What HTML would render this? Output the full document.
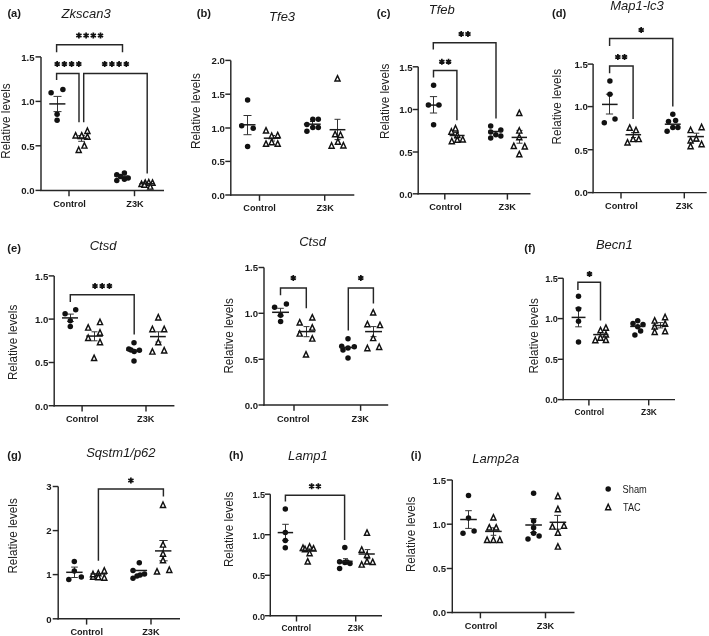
<!DOCTYPE html>
<html><head><meta charset="utf-8"><style>
html,body{margin:0;padding:0;background:#fff;}
svg{display:block;font-family:"Liberation Sans", sans-serif;filter:blur(0.35px);}
</style></head><body>
<svg width="709" height="636" viewBox="0 0 709 636">
<rect width="709" height="636" fill="#fff"/>
<line x1="41.0" y1="56.9" x2="41.0" y2="191.1" stroke="#262626" stroke-width="1.45"/>
<line x1="40.3" y1="190.4" x2="164.0" y2="190.4" stroke="#262626" stroke-width="1.45"/>
<line x1="35.5" y1="56.9" x2="41.0" y2="56.9" stroke="#262626" stroke-width="1.45"/>
<text x="34.6" y="60.7" font-size="9.6" font-weight="bold" font-style="normal" text-anchor="end" fill="#1a1a1a" >1.5</text>
<line x1="35.5" y1="101.4" x2="41.0" y2="101.4" stroke="#262626" stroke-width="1.45"/>
<text x="34.6" y="105.2" font-size="9.6" font-weight="bold" font-style="normal" text-anchor="end" fill="#1a1a1a" >1.0</text>
<line x1="35.5" y1="145.8" x2="41.0" y2="145.8" stroke="#262626" stroke-width="1.45"/>
<text x="34.6" y="149.6" font-size="9.6" font-weight="bold" font-style="normal" text-anchor="end" fill="#1a1a1a" >0.5</text>
<line x1="35.5" y1="190.4" x2="41.0" y2="190.4" stroke="#262626" stroke-width="1.45"/>
<text x="34.6" y="194.2" font-size="9.6" font-weight="bold" font-style="normal" text-anchor="end" fill="#1a1a1a" >0.0</text>
<line x1="69.0" y1="190.4" x2="69.0" y2="196.2" stroke="#262626" stroke-width="1.45"/>
<line x1="134.5" y1="190.4" x2="134.5" y2="196.2" stroke="#262626" stroke-width="1.45"/>
<text x="69.5" y="206.9" font-size="9.9" font-weight="bold" font-style="normal" text-anchor="middle" fill="#1a1a1a" textLength="32.6" lengthAdjust="spacingAndGlyphs">Control</text>
<text x="135.0" y="206.9" font-size="9.9" font-weight="bold" font-style="normal" text-anchor="middle" fill="#1a1a1a" textLength="17.4" lengthAdjust="spacingAndGlyphs">Z3K</text>
<text x="86.1" y="17.8" font-size="13.0" font-weight="normal" font-style="italic" text-anchor="middle" fill="#1a1a1a" >Zkscan3</text>
<text x="7.4" y="16.9" font-size="11.2" font-weight="bold" font-style="normal" text-anchor="start" fill="#1a1a1a" >(a)</text>
<text x="9.9" y="121.0" font-size="12.3" font-weight="normal" font-style="normal" text-anchor="middle" fill="#222" textLength="75.4" lengthAdjust="spacingAndGlyphs" transform="rotate(-90 9.9 121.0)">Relative levels</text>
<line x1="57.5" y1="96.4" x2="57.5" y2="111.6" stroke="#333" stroke-width="1.0"/>
<line x1="53.5" y1="96.4" x2="61.5" y2="96.4" stroke="#333" stroke-width="1.0"/>
<line x1="53.5" y1="111.6" x2="61.5" y2="111.6" stroke="#333" stroke-width="1.0"/>
<circle cx="51.1" cy="92.8" r="2.75" fill="#111"/>
<circle cx="62.9" cy="89.4" r="2.75" fill="#111"/>
<circle cx="57.1" cy="114.2" r="2.75" fill="#111"/>
<circle cx="57.1" cy="120.3" r="2.75" fill="#111"/>
<line x1="49.3" y1="103.9" x2="65.4" y2="103.9" stroke="#1a1a1a" stroke-width="1.5"/>
<line x1="81.5" y1="135.5" x2="81.5" y2="141.3" stroke="#333" stroke-width="1.0"/>
<line x1="78.2" y1="135.5" x2="84.8" y2="135.5" stroke="#333" stroke-width="1.0"/>
<line x1="78.2" y1="141.3" x2="84.8" y2="141.3" stroke="#333" stroke-width="1.0"/>
<path d="M75.60 132.60 L78.15 138.00 L73.05 138.00 Z" fill="#fff" stroke="#111" stroke-width="1.45" stroke-linejoin="miter"/>
<path d="M81.70 132.60 L84.25 138.00 L79.15 138.00 Z" fill="#fff" stroke="#111" stroke-width="1.45" stroke-linejoin="miter"/>
<path d="M87.40 128.00 L89.95 133.40 L84.85 133.40 Z" fill="#fff" stroke="#111" stroke-width="1.45" stroke-linejoin="miter"/>
<path d="M87.40 133.90 L89.95 139.30 L84.85 139.30 Z" fill="#fff" stroke="#111" stroke-width="1.45" stroke-linejoin="miter"/>
<path d="M84.40 142.70 L86.95 148.10 L81.85 148.10 Z" fill="#fff" stroke="#111" stroke-width="1.45" stroke-linejoin="miter"/>
<path d="M78.70 147.00 L81.25 152.40 L76.15 152.40 Z" fill="#fff" stroke="#111" stroke-width="1.45" stroke-linejoin="miter"/>
<line x1="77.2" y1="138.6" x2="87.8" y2="138.6" stroke="#1a1a1a" stroke-width="1.5"/>
<circle cx="116.8" cy="174.8" r="2.75" fill="#111"/>
<circle cx="124.4" cy="173.0" r="2.75" fill="#111"/>
<circle cx="116.8" cy="180.6" r="2.75" fill="#111"/>
<circle cx="124.4" cy="179.3" r="2.75" fill="#111"/>
<circle cx="128.2" cy="177.9" r="2.75" fill="#111"/>
<circle cx="120.5" cy="176.5" r="2.75" fill="#111"/>
<line x1="114.5" y1="176.2" x2="128.0" y2="176.2" stroke="#1a1a1a" stroke-width="1.5"/>
<path d="M141.50 181.10 L144.05 186.50 L138.95 186.50 Z" fill="#fff" stroke="#111" stroke-width="1.45" stroke-linejoin="miter"/>
<path d="M145.20 179.90 L147.75 185.30 L142.65 185.30 Z" fill="#fff" stroke="#111" stroke-width="1.45" stroke-linejoin="miter"/>
<path d="M148.80 179.50 L151.35 184.90 L146.25 184.90 Z" fill="#fff" stroke="#111" stroke-width="1.45" stroke-linejoin="miter"/>
<path d="M152.50 179.90 L155.05 185.30 L149.95 185.30 Z" fill="#fff" stroke="#111" stroke-width="1.45" stroke-linejoin="miter"/>
<path d="M150.30 183.70 L152.85 189.10 L147.75 189.10 Z" fill="#fff" stroke="#111" stroke-width="1.45" stroke-linejoin="miter"/>
<path d="M144.50 181.90 L147.05 187.30 L141.95 187.30 Z" fill="#fff" stroke="#111" stroke-width="1.45" stroke-linejoin="miter"/>
<line x1="139.5" y1="183.7" x2="155.0" y2="183.7" stroke="#1a1a1a" stroke-width="1.5"/>
<polyline points="56.6,52.3 56.6,44.8 122.5,44.8 122.5,52.3" fill="none" stroke="#262626" stroke-width="1.45" stroke-linejoin="miter"/>
<path d="M78.90 38.40L78.90 32.40M76.30 36.90L81.50 33.90M76.30 33.90L81.50 36.90" stroke="#111" stroke-width="1.7" stroke-linecap="butt"/>
<path d="M86.10 38.40L86.10 32.40M83.50 36.90L88.70 33.90M83.50 33.90L88.70 36.90" stroke="#111" stroke-width="1.7" stroke-linecap="butt"/>
<path d="M93.30 38.40L93.30 32.40M90.70 36.90L95.90 33.90M90.70 33.90L95.90 36.90" stroke="#111" stroke-width="1.7" stroke-linecap="butt"/>
<path d="M100.50 38.40L100.50 32.40M97.90 36.90L103.10 33.90M97.90 33.90L103.10 36.90" stroke="#111" stroke-width="1.7" stroke-linecap="butt"/>
<polyline points="56.6,80.0 56.6,73.5 79.0,73.5 79.0,122.2" fill="none" stroke="#262626" stroke-width="1.45" stroke-linejoin="miter"/>
<path d="M57.20 67.00L57.20 61.00M54.60 65.50L59.80 62.50M54.60 62.50L59.80 65.50" stroke="#111" stroke-width="1.7" stroke-linecap="butt"/>
<path d="M64.40 67.00L64.40 61.00M61.80 65.50L67.00 62.50M61.80 62.50L67.00 65.50" stroke="#111" stroke-width="1.7" stroke-linecap="butt"/>
<path d="M71.60 67.00L71.60 61.00M69.00 65.50L74.20 62.50M69.00 62.50L74.20 65.50" stroke="#111" stroke-width="1.7" stroke-linecap="butt"/>
<path d="M78.80 67.00L78.80 61.00M76.20 65.50L81.40 62.50M76.20 62.50L81.40 65.50" stroke="#111" stroke-width="1.7" stroke-linecap="butt"/>
<polyline points="83.7,122.2 83.7,73.5 147.2,73.5 147.2,173.5" fill="none" stroke="#262626" stroke-width="1.45" stroke-linejoin="miter"/>
<path d="M104.70 67.00L104.70 61.00M102.10 65.50L107.30 62.50M102.10 62.50L107.30 65.50" stroke="#111" stroke-width="1.7" stroke-linecap="butt"/>
<path d="M111.90 67.00L111.90 61.00M109.30 65.50L114.50 62.50M109.30 62.50L114.50 65.50" stroke="#111" stroke-width="1.7" stroke-linecap="butt"/>
<path d="M119.10 67.00L119.10 61.00M116.50 65.50L121.70 62.50M116.50 62.50L121.70 65.50" stroke="#111" stroke-width="1.7" stroke-linecap="butt"/>
<path d="M126.30 67.00L126.30 61.00M123.70 65.50L128.90 62.50M123.70 62.50L128.90 65.50" stroke="#111" stroke-width="1.7" stroke-linecap="butt"/>
<line x1="230.8" y1="60.4" x2="230.8" y2="195.7" stroke="#262626" stroke-width="1.45"/>
<line x1="230.1" y1="195.0" x2="354.3" y2="195.0" stroke="#262626" stroke-width="1.45"/>
<line x1="225.3" y1="60.4" x2="230.8" y2="60.4" stroke="#262626" stroke-width="1.45"/>
<text x="224.9" y="64.2" font-size="9.6" font-weight="bold" font-style="normal" text-anchor="end" fill="#1a1a1a" >2.0</text>
<line x1="225.3" y1="94.2" x2="230.8" y2="94.2" stroke="#262626" stroke-width="1.45"/>
<text x="224.9" y="98.0" font-size="9.6" font-weight="bold" font-style="normal" text-anchor="end" fill="#1a1a1a" >1.5</text>
<line x1="225.3" y1="128.0" x2="230.8" y2="128.0" stroke="#262626" stroke-width="1.45"/>
<text x="224.9" y="131.8" font-size="9.6" font-weight="bold" font-style="normal" text-anchor="end" fill="#1a1a1a" >1.0</text>
<line x1="225.3" y1="161.4" x2="230.8" y2="161.4" stroke="#262626" stroke-width="1.45"/>
<text x="224.9" y="165.2" font-size="9.6" font-weight="bold" font-style="normal" text-anchor="end" fill="#1a1a1a" >0.5</text>
<line x1="225.3" y1="195.0" x2="230.8" y2="195.0" stroke="#262626" stroke-width="1.45"/>
<text x="224.9" y="198.8" font-size="9.6" font-weight="bold" font-style="normal" text-anchor="end" fill="#1a1a1a" >0.0</text>
<line x1="259.5" y1="195.0" x2="259.5" y2="200.8" stroke="#262626" stroke-width="1.45"/>
<line x1="324.7" y1="195.0" x2="324.7" y2="200.8" stroke="#262626" stroke-width="1.45"/>
<text x="259.6" y="210.9" font-size="9.9" font-weight="bold" font-style="normal" text-anchor="middle" fill="#1a1a1a" textLength="32.6" lengthAdjust="spacingAndGlyphs">Control</text>
<text x="325.1" y="210.9" font-size="9.9" font-weight="bold" font-style="normal" text-anchor="middle" fill="#1a1a1a" textLength="17.4" lengthAdjust="spacingAndGlyphs">Z3K</text>
<text x="282.1" y="21.3" font-size="13.0" font-weight="normal" font-style="italic" text-anchor="middle" fill="#1a1a1a" >Tfe3</text>
<text x="196.8" y="16.9" font-size="11.2" font-weight="bold" font-style="normal" text-anchor="start" fill="#1a1a1a" >(b)</text>
<text x="200.1" y="111.1" font-size="12.3" font-weight="normal" font-style="normal" text-anchor="middle" fill="#222" textLength="76.0" lengthAdjust="spacingAndGlyphs" transform="rotate(-90 200.1 111.1)">Relative levels</text>
<line x1="247.5" y1="115.5" x2="247.5" y2="134.7" stroke="#333" stroke-width="1.0"/>
<line x1="243.5" y1="115.5" x2="251.5" y2="115.5" stroke="#333" stroke-width="1.0"/>
<line x1="243.5" y1="134.7" x2="251.5" y2="134.7" stroke="#333" stroke-width="1.0"/>
<circle cx="247.6" cy="100.1" r="2.75" fill="#111"/>
<circle cx="241.7" cy="125.8" r="2.75" fill="#111"/>
<circle cx="253.2" cy="128.2" r="2.75" fill="#111"/>
<circle cx="247.6" cy="146.5" r="2.75" fill="#111"/>
<line x1="239.7" y1="124.8" x2="255.5" y2="124.8" stroke="#1a1a1a" stroke-width="1.5"/>
<line x1="272.5" y1="135.5" x2="272.5" y2="141.0" stroke="#333" stroke-width="1.0"/>
<line x1="270.0" y1="135.5" x2="275.0" y2="135.5" stroke="#333" stroke-width="1.0"/>
<line x1="270.0" y1="141.0" x2="275.0" y2="141.0" stroke="#333" stroke-width="1.0"/>
<path d="M266.00 127.60 L268.55 133.00 L263.45 133.00 Z" fill="#fff" stroke="#111" stroke-width="1.45" stroke-linejoin="miter"/>
<path d="M271.70 133.00 L274.25 138.40 L269.15 138.40 Z" fill="#fff" stroke="#111" stroke-width="1.45" stroke-linejoin="miter"/>
<path d="M277.70 132.40 L280.25 137.80 L275.15 137.80 Z" fill="#fff" stroke="#111" stroke-width="1.45" stroke-linejoin="miter"/>
<path d="M266.00 140.90 L268.55 146.30 L263.45 146.30 Z" fill="#fff" stroke="#111" stroke-width="1.45" stroke-linejoin="miter"/>
<path d="M271.70 139.30 L274.25 144.70 L269.15 144.70 Z" fill="#fff" stroke="#111" stroke-width="1.45" stroke-linejoin="miter"/>
<path d="M277.70 140.90 L280.25 146.30 L275.15 146.30 Z" fill="#fff" stroke="#111" stroke-width="1.45" stroke-linejoin="miter"/>
<line x1="263.8" y1="138.2" x2="280.2" y2="138.2" stroke="#1a1a1a" stroke-width="1.5"/>
<line x1="312.5" y1="121.5" x2="312.5" y2="127.0" stroke="#333" stroke-width="1.0"/>
<line x1="310.0" y1="121.5" x2="315.0" y2="121.5" stroke="#333" stroke-width="1.0"/>
<line x1="310.0" y1="127.0" x2="315.0" y2="127.0" stroke="#333" stroke-width="1.0"/>
<circle cx="306.9" cy="124.4" r="2.75" fill="#111"/>
<circle cx="312.8" cy="119.3" r="2.75" fill="#111"/>
<circle cx="318.3" cy="119.3" r="2.75" fill="#111"/>
<circle cx="306.9" cy="131.3" r="2.75" fill="#111"/>
<circle cx="312.8" cy="127.4" r="2.75" fill="#111"/>
<circle cx="318.3" cy="127.4" r="2.75" fill="#111"/>
<line x1="303.9" y1="124.2" x2="320.7" y2="124.2" stroke="#1a1a1a" stroke-width="1.5"/>
<line x1="337.5" y1="119.3" x2="337.5" y2="139.6" stroke="#333" stroke-width="1.0"/>
<line x1="334.5" y1="119.3" x2="340.5" y2="119.3" stroke="#333" stroke-width="1.0"/>
<line x1="334.5" y1="139.6" x2="340.5" y2="139.6" stroke="#333" stroke-width="1.0"/>
<path d="M337.50 75.60 L340.05 81.00 L334.95 81.00 Z" fill="#fff" stroke="#111" stroke-width="1.45" stroke-linejoin="miter"/>
<path d="M335.10 131.40 L337.65 136.80 L332.55 136.80 Z" fill="#fff" stroke="#111" stroke-width="1.45" stroke-linejoin="miter"/>
<path d="M340.50 132.00 L343.05 137.40 L337.95 137.40 Z" fill="#fff" stroke="#111" stroke-width="1.45" stroke-linejoin="miter"/>
<path d="M337.90 138.90 L340.45 144.30 L335.35 144.30 Z" fill="#fff" stroke="#111" stroke-width="1.45" stroke-linejoin="miter"/>
<path d="M331.60 142.80 L334.15 148.20 L329.05 148.20 Z" fill="#fff" stroke="#111" stroke-width="1.45" stroke-linejoin="miter"/>
<path d="M343.40 142.50 L345.95 147.90 L340.85 147.90 Z" fill="#fff" stroke="#111" stroke-width="1.45" stroke-linejoin="miter"/>
<line x1="329.6" y1="129.7" x2="345.4" y2="129.7" stroke="#1a1a1a" stroke-width="1.5"/>
<line x1="418.2" y1="66.8" x2="418.2" y2="194.5" stroke="#262626" stroke-width="1.45"/>
<line x1="417.5" y1="193.8" x2="530.5" y2="193.8" stroke="#262626" stroke-width="1.45"/>
<line x1="412.7" y1="66.8" x2="418.2" y2="66.8" stroke="#262626" stroke-width="1.45"/>
<text x="412.5" y="70.6" font-size="9.6" font-weight="bold" font-style="normal" text-anchor="end" fill="#1a1a1a" >1.5</text>
<line x1="412.7" y1="109.5" x2="418.2" y2="109.5" stroke="#262626" stroke-width="1.45"/>
<text x="412.5" y="113.3" font-size="9.6" font-weight="bold" font-style="normal" text-anchor="end" fill="#1a1a1a" >1.0</text>
<line x1="412.7" y1="152.0" x2="418.2" y2="152.0" stroke="#262626" stroke-width="1.45"/>
<text x="412.5" y="155.8" font-size="9.6" font-weight="bold" font-style="normal" text-anchor="end" fill="#1a1a1a" >0.5</text>
<line x1="412.7" y1="193.8" x2="418.2" y2="193.8" stroke="#262626" stroke-width="1.45"/>
<text x="412.5" y="197.6" font-size="9.6" font-weight="bold" font-style="normal" text-anchor="end" fill="#1a1a1a" >0.0</text>
<line x1="444.8" y1="193.8" x2="444.8" y2="199.6" stroke="#262626" stroke-width="1.45"/>
<line x1="507.4" y1="193.8" x2="507.4" y2="199.6" stroke="#262626" stroke-width="1.45"/>
<text x="445.5" y="209.8" font-size="9.9" font-weight="bold" font-style="normal" text-anchor="middle" fill="#1a1a1a" textLength="32.6" lengthAdjust="spacingAndGlyphs">Control</text>
<text x="507.2" y="209.8" font-size="9.9" font-weight="bold" font-style="normal" text-anchor="middle" fill="#1a1a1a" textLength="17.4" lengthAdjust="spacingAndGlyphs">Z3K</text>
<text x="441.7" y="13.5" font-size="13.0" font-weight="normal" font-style="italic" text-anchor="middle" fill="#1a1a1a" >Tfeb</text>
<text x="376.8" y="16.9" font-size="11.2" font-weight="bold" font-style="normal" text-anchor="start" fill="#1a1a1a" >(c)</text>
<text x="389.1" y="101.3" font-size="12.3" font-weight="normal" font-style="normal" text-anchor="middle" fill="#222" textLength="75.4" lengthAdjust="spacingAndGlyphs" transform="rotate(-90 389.1 101.3)">Relative levels</text>
<line x1="433.5" y1="96.6" x2="433.5" y2="113.0" stroke="#333" stroke-width="1.0"/>
<line x1="429.9" y1="96.6" x2="437.1" y2="96.6" stroke="#333" stroke-width="1.0"/>
<line x1="429.9" y1="113.0" x2="437.1" y2="113.0" stroke="#333" stroke-width="1.0"/>
<circle cx="433.6" cy="85.3" r="2.75" fill="#111"/>
<circle cx="428.4" cy="105.1" r="2.75" fill="#111"/>
<circle cx="438.9" cy="105.1" r="2.75" fill="#111"/>
<circle cx="433.6" cy="124.8" r="2.75" fill="#111"/>
<line x1="426.1" y1="105.1" x2="441.5" y2="105.1" stroke="#1a1a1a" stroke-width="1.5"/>
<line x1="456.5" y1="132.5" x2="456.5" y2="138.0" stroke="#333" stroke-width="1.0"/>
<line x1="454.0" y1="132.5" x2="459.0" y2="132.5" stroke="#333" stroke-width="1.0"/>
<line x1="454.0" y1="138.0" x2="459.0" y2="138.0" stroke="#333" stroke-width="1.0"/>
<path d="M455.50 125.50 L458.05 130.90 L452.95 130.90 Z" fill="#fff" stroke="#111" stroke-width="1.45" stroke-linejoin="miter"/>
<path d="M451.40 128.80 L453.95 134.20 L448.85 134.20 Z" fill="#fff" stroke="#111" stroke-width="1.45" stroke-linejoin="miter"/>
<path d="M457.30 132.10 L459.85 137.50 L454.75 137.50 Z" fill="#fff" stroke="#111" stroke-width="1.45" stroke-linejoin="miter"/>
<path d="M451.80 138.30 L454.35 143.70 L449.25 143.70 Z" fill="#fff" stroke="#111" stroke-width="1.45" stroke-linejoin="miter"/>
<path d="M457.30 136.90 L459.85 142.30 L454.75 142.30 Z" fill="#fff" stroke="#111" stroke-width="1.45" stroke-linejoin="miter"/>
<path d="M462.80 136.50 L465.35 141.90 L460.25 141.90 Z" fill="#fff" stroke="#111" stroke-width="1.45" stroke-linejoin="miter"/>
<line x1="449.6" y1="135.5" x2="464.6" y2="135.5" stroke="#1a1a1a" stroke-width="1.5"/>
<circle cx="490.7" cy="126.0" r="2.75" fill="#111"/>
<circle cx="490.7" cy="131.9" r="2.75" fill="#111"/>
<circle cx="490.7" cy="138.1" r="2.75" fill="#111"/>
<circle cx="495.8" cy="134.8" r="2.75" fill="#111"/>
<circle cx="500.8" cy="130.0" r="2.75" fill="#111"/>
<circle cx="500.8" cy="135.9" r="2.75" fill="#111"/>
<line x1="488.0" y1="131.5" x2="502.4" y2="131.5" stroke="#1a1a1a" stroke-width="1.5"/>
<line x1="519.5" y1="130.4" x2="519.5" y2="143.2" stroke="#333" stroke-width="1.0"/>
<line x1="516.5" y1="130.4" x2="522.5" y2="130.4" stroke="#333" stroke-width="1.0"/>
<line x1="516.5" y1="143.2" x2="522.5" y2="143.2" stroke="#333" stroke-width="1.0"/>
<path d="M519.30 110.10 L521.85 115.50 L516.75 115.50 Z" fill="#fff" stroke="#111" stroke-width="1.45" stroke-linejoin="miter"/>
<path d="M519.30 127.70 L521.85 133.10 L516.75 133.10 Z" fill="#fff" stroke="#111" stroke-width="1.45" stroke-linejoin="miter"/>
<path d="M519.30 134.30 L521.85 139.70 L516.75 139.70 Z" fill="#fff" stroke="#111" stroke-width="1.45" stroke-linejoin="miter"/>
<path d="M513.80 143.10 L516.35 148.50 L511.25 148.50 Z" fill="#fff" stroke="#111" stroke-width="1.45" stroke-linejoin="miter"/>
<path d="M524.80 143.50 L527.35 148.90 L522.25 148.90 Z" fill="#fff" stroke="#111" stroke-width="1.45" stroke-linejoin="miter"/>
<path d="M519.30 151.40 L521.85 156.80 L516.75 156.80 Z" fill="#fff" stroke="#111" stroke-width="1.45" stroke-linejoin="miter"/>
<line x1="511.6" y1="137.4" x2="527.0" y2="137.4" stroke="#1a1a1a" stroke-width="1.5"/>
<polyline points="433.3,49.5 433.3,42.8 496.0,42.8 496.0,118.5" fill="none" stroke="#262626" stroke-width="1.45" stroke-linejoin="miter"/>
<path d="M461.25 37.00L461.25 31.00M458.65 35.50L463.85 32.50M458.65 32.50L463.85 35.50" stroke="#111" stroke-width="1.7" stroke-linecap="butt"/>
<path d="M467.95 37.00L467.95 31.00M465.35 35.50L470.55 32.50M465.35 32.50L470.55 35.50" stroke="#111" stroke-width="1.7" stroke-linecap="butt"/>
<polyline points="433.5,77.6 433.5,70.5 456.9,70.5 456.9,120.2" fill="none" stroke="#262626" stroke-width="1.45" stroke-linejoin="miter"/>
<path d="M441.85 64.80L441.85 58.80M439.25 63.30L444.45 60.30M439.25 60.30L444.45 63.30" stroke="#111" stroke-width="1.7" stroke-linecap="butt"/>
<path d="M448.55 64.80L448.55 58.80M445.95 63.30L451.15 60.30M445.95 60.30L451.15 63.30" stroke="#111" stroke-width="1.7" stroke-linecap="butt"/>
<line x1="593.1" y1="64.1" x2="593.1" y2="193.3" stroke="#262626" stroke-width="1.45"/>
<line x1="592.4" y1="192.6" x2="706.7" y2="192.6" stroke="#262626" stroke-width="1.45"/>
<line x1="587.6" y1="64.1" x2="593.1" y2="64.1" stroke="#262626" stroke-width="1.45"/>
<text x="587.8" y="67.9" font-size="9.6" font-weight="bold" font-style="normal" text-anchor="end" fill="#1a1a1a" >1.5</text>
<line x1="587.6" y1="106.6" x2="593.1" y2="106.6" stroke="#262626" stroke-width="1.45"/>
<text x="587.8" y="110.4" font-size="9.6" font-weight="bold" font-style="normal" text-anchor="end" fill="#1a1a1a" >1.0</text>
<line x1="587.6" y1="149.7" x2="593.1" y2="149.7" stroke="#262626" stroke-width="1.45"/>
<text x="587.8" y="153.5" font-size="9.6" font-weight="bold" font-style="normal" text-anchor="end" fill="#1a1a1a" >0.5</text>
<line x1="587.6" y1="192.6" x2="593.1" y2="192.6" stroke="#262626" stroke-width="1.45"/>
<text x="587.8" y="196.4" font-size="9.6" font-weight="bold" font-style="normal" text-anchor="end" fill="#1a1a1a" >0.0</text>
<line x1="621.0" y1="192.6" x2="621.0" y2="198.4" stroke="#262626" stroke-width="1.45"/>
<line x1="684.3" y1="192.6" x2="684.3" y2="198.4" stroke="#262626" stroke-width="1.45"/>
<text x="621.4" y="208.5" font-size="9.9" font-weight="bold" font-style="normal" text-anchor="middle" fill="#1a1a1a" textLength="32.6" lengthAdjust="spacingAndGlyphs">Control</text>
<text x="684.5" y="208.5" font-size="9.9" font-weight="bold" font-style="normal" text-anchor="middle" fill="#1a1a1a" textLength="17.4" lengthAdjust="spacingAndGlyphs">Z3K</text>
<text x="636.9" y="10.4" font-size="13.0" font-weight="normal" font-style="italic" text-anchor="middle" fill="#1a1a1a" >Map1-lc3</text>
<text x="552.0" y="16.9" font-size="11.2" font-weight="bold" font-style="normal" text-anchor="start" fill="#1a1a1a" >(d)</text>
<text x="560.7" y="106.7" font-size="12.3" font-weight="normal" font-style="normal" text-anchor="middle" fill="#222" textLength="75.4" lengthAdjust="spacingAndGlyphs" transform="rotate(-90 560.7 106.7)">Relative levels</text>
<line x1="609.5" y1="94.2" x2="609.5" y2="114.0" stroke="#333" stroke-width="1.0"/>
<line x1="605.9" y1="94.2" x2="613.1" y2="94.2" stroke="#333" stroke-width="1.0"/>
<line x1="605.9" y1="114.0" x2="613.1" y2="114.0" stroke="#333" stroke-width="1.0"/>
<circle cx="609.9" cy="80.9" r="2.75" fill="#111"/>
<circle cx="609.9" cy="94.2" r="2.75" fill="#111"/>
<circle cx="604.3" cy="122.8" r="2.75" fill="#111"/>
<circle cx="615.0" cy="119.1" r="2.75" fill="#111"/>
<line x1="602.0" y1="104.4" x2="617.6" y2="104.4" stroke="#1a1a1a" stroke-width="1.5"/>
<line x1="633.5" y1="132.7" x2="633.5" y2="137.5" stroke="#333" stroke-width="1.0"/>
<line x1="631.0" y1="132.7" x2="636.0" y2="132.7" stroke="#333" stroke-width="1.0"/>
<line x1="631.0" y1="137.5" x2="636.0" y2="137.5" stroke="#333" stroke-width="1.0"/>
<path d="M629.70 124.90 L632.25 130.30 L627.15 130.30 Z" fill="#fff" stroke="#111" stroke-width="1.45" stroke-linejoin="miter"/>
<path d="M636.00 127.20 L638.55 132.60 L633.45 132.60 Z" fill="#fff" stroke="#111" stroke-width="1.45" stroke-linejoin="miter"/>
<path d="M627.50 139.60 L630.05 145.00 L624.95 145.00 Z" fill="#fff" stroke="#111" stroke-width="1.45" stroke-linejoin="miter"/>
<path d="M633.10 136.20 L635.65 141.60 L630.55 141.60 Z" fill="#fff" stroke="#111" stroke-width="1.45" stroke-linejoin="miter"/>
<path d="M638.80 136.20 L641.35 141.60 L636.25 141.60 Z" fill="#fff" stroke="#111" stroke-width="1.45" stroke-linejoin="miter"/>
<line x1="625.5" y1="134.7" x2="641.1" y2="134.7" stroke="#1a1a1a" stroke-width="1.5"/>
<circle cx="672.8" cy="114.3" r="2.75" fill="#111"/>
<circle cx="668.5" cy="121.4" r="2.75" fill="#111"/>
<circle cx="675.6" cy="120.5" r="2.75" fill="#111"/>
<circle cx="667.1" cy="131.3" r="2.75" fill="#111"/>
<circle cx="672.8" cy="127.6" r="2.75" fill="#111"/>
<circle cx="677.9" cy="127.6" r="2.75" fill="#111"/>
<line x1="664.8" y1="124.2" x2="680.7" y2="124.2" stroke="#1a1a1a" stroke-width="1.5"/>
<line x1="696.5" y1="133.2" x2="696.5" y2="141.2" stroke="#333" stroke-width="1.0"/>
<line x1="693.7" y1="133.2" x2="699.3" y2="133.2" stroke="#333" stroke-width="1.0"/>
<line x1="693.7" y1="141.2" x2="699.3" y2="141.2" stroke="#333" stroke-width="1.0"/>
<path d="M690.60 127.20 L693.15 132.60 L688.05 132.60 Z" fill="#fff" stroke="#111" stroke-width="1.45" stroke-linejoin="miter"/>
<path d="M701.60 124.30 L704.15 129.70 L699.05 129.70 Z" fill="#fff" stroke="#111" stroke-width="1.45" stroke-linejoin="miter"/>
<path d="M690.60 137.60 L693.15 143.00 L688.05 143.00 Z" fill="#fff" stroke="#111" stroke-width="1.45" stroke-linejoin="miter"/>
<path d="M696.30 135.60 L698.85 141.00 L693.75 141.00 Z" fill="#fff" stroke="#111" stroke-width="1.45" stroke-linejoin="miter"/>
<path d="M701.60 141.30 L704.15 146.70 L699.05 146.70 Z" fill="#fff" stroke="#111" stroke-width="1.45" stroke-linejoin="miter"/>
<path d="M690.60 143.30 L693.15 148.70 L688.05 148.70 Z" fill="#fff" stroke="#111" stroke-width="1.45" stroke-linejoin="miter"/>
<line x1="687.5" y1="136.6" x2="703.9" y2="136.6" stroke="#1a1a1a" stroke-width="1.5"/>
<polyline points="609.6,46.0 609.6,38.5 672.8,38.5 672.8,106.4" fill="none" stroke="#262626" stroke-width="1.45" stroke-linejoin="miter"/>
<path d="M641.20 32.90L641.20 26.90M638.60 31.40L643.80 28.40M638.60 28.40L643.80 31.40" stroke="#111" stroke-width="1.7" stroke-linecap="butt"/>
<polyline points="609.6,73.3 609.6,65.9 633.1,65.9 633.1,119.1" fill="none" stroke="#262626" stroke-width="1.45" stroke-linejoin="miter"/>
<path d="M617.85 60.00L617.85 54.00M615.25 58.50L620.45 55.50M615.25 55.50L620.45 58.50" stroke="#111" stroke-width="1.7" stroke-linecap="butt"/>
<path d="M624.55 60.00L624.55 54.00M621.95 58.50L627.15 55.50M621.95 55.50L627.15 58.50" stroke="#111" stroke-width="1.7" stroke-linecap="butt"/>
<line x1="54.2" y1="275.9" x2="54.2" y2="406.4" stroke="#262626" stroke-width="1.45"/>
<line x1="53.5" y1="405.7" x2="174.4" y2="405.7" stroke="#262626" stroke-width="1.45"/>
<line x1="48.7" y1="275.9" x2="54.2" y2="275.9" stroke="#262626" stroke-width="1.45"/>
<text x="48.3" y="279.7" font-size="9.6" font-weight="bold" font-style="normal" text-anchor="end" fill="#1a1a1a" >1.5</text>
<line x1="48.7" y1="319.1" x2="54.2" y2="319.1" stroke="#262626" stroke-width="1.45"/>
<text x="48.3" y="322.9" font-size="9.6" font-weight="bold" font-style="normal" text-anchor="end" fill="#1a1a1a" >1.0</text>
<line x1="48.7" y1="362.5" x2="54.2" y2="362.5" stroke="#262626" stroke-width="1.45"/>
<text x="48.3" y="366.3" font-size="9.6" font-weight="bold" font-style="normal" text-anchor="end" fill="#1a1a1a" >0.5</text>
<line x1="48.7" y1="405.7" x2="54.2" y2="405.7" stroke="#262626" stroke-width="1.45"/>
<text x="48.3" y="409.5" font-size="9.6" font-weight="bold" font-style="normal" text-anchor="end" fill="#1a1a1a" >0.0</text>
<line x1="82.1" y1="405.7" x2="82.1" y2="411.5" stroke="#262626" stroke-width="1.45"/>
<line x1="146.0" y1="405.7" x2="146.0" y2="411.5" stroke="#262626" stroke-width="1.45"/>
<text x="82.3" y="421.9" font-size="9.9" font-weight="bold" font-style="normal" text-anchor="middle" fill="#1a1a1a" textLength="32.6" lengthAdjust="spacingAndGlyphs">Control</text>
<text x="145.8" y="421.9" font-size="9.9" font-weight="bold" font-style="normal" text-anchor="middle" fill="#1a1a1a" textLength="17.4" lengthAdjust="spacingAndGlyphs">Z3K</text>
<text x="103.1" y="249.9" font-size="13.0" font-weight="normal" font-style="italic" text-anchor="middle" fill="#1a1a1a" >Ctsd</text>
<text x="7.2" y="252.0" font-size="11.2" font-weight="bold" font-style="normal" text-anchor="start" fill="#1a1a1a" >(e)</text>
<text x="16.6" y="342.4" font-size="12.3" font-weight="normal" font-style="normal" text-anchor="middle" fill="#222" textLength="75.4" lengthAdjust="spacingAndGlyphs" transform="rotate(-90 16.6 342.4)">Relative levels</text>
<line x1="70.5" y1="314.1" x2="70.5" y2="321.5" stroke="#333" stroke-width="1.0"/>
<line x1="67.2" y1="314.1" x2="73.8" y2="314.1" stroke="#333" stroke-width="1.0"/>
<line x1="67.2" y1="321.5" x2="73.8" y2="321.5" stroke="#333" stroke-width="1.0"/>
<circle cx="65.1" cy="313.7" r="2.75" fill="#111"/>
<circle cx="75.7" cy="309.7" r="2.75" fill="#111"/>
<circle cx="70.3" cy="320.7" r="2.75" fill="#111"/>
<circle cx="70.3" cy="326.6" r="2.75" fill="#111"/>
<line x1="62.0" y1="317.9" x2="78.0" y2="317.9" stroke="#1a1a1a" stroke-width="1.5"/>
<line x1="94.5" y1="331.8" x2="94.5" y2="340.8" stroke="#333" stroke-width="1.0"/>
<line x1="91.5" y1="331.8" x2="97.5" y2="331.8" stroke="#333" stroke-width="1.0"/>
<line x1="91.5" y1="340.8" x2="97.5" y2="340.8" stroke="#333" stroke-width="1.0"/>
<path d="M88.20 324.70 L90.75 330.10 L85.65 330.10 Z" fill="#fff" stroke="#111" stroke-width="1.45" stroke-linejoin="miter"/>
<path d="M100.00 319.20 L102.55 324.60 L97.45 324.60 Z" fill="#fff" stroke="#111" stroke-width="1.45" stroke-linejoin="miter"/>
<path d="M100.00 329.80 L102.55 335.20 L97.45 335.20 Z" fill="#fff" stroke="#111" stroke-width="1.45" stroke-linejoin="miter"/>
<path d="M88.20 335.00 L90.75 340.40 L85.65 340.40 Z" fill="#fff" stroke="#111" stroke-width="1.45" stroke-linejoin="miter"/>
<path d="M100.00 339.30 L102.55 344.70 L97.45 344.70 Z" fill="#fff" stroke="#111" stroke-width="1.45" stroke-linejoin="miter"/>
<path d="M94.10 355.10 L96.65 360.50 L91.55 360.50 Z" fill="#fff" stroke="#111" stroke-width="1.45" stroke-linejoin="miter"/>
<line x1="86.3" y1="336.1" x2="102.8" y2="336.1" stroke="#1a1a1a" stroke-width="1.5"/>
<circle cx="134.0" cy="342.7" r="2.75" fill="#111"/>
<circle cx="128.8" cy="349.1" r="2.75" fill="#111"/>
<circle cx="134.2" cy="351.4" r="2.75" fill="#111"/>
<circle cx="139.4" cy="350.2" r="2.75" fill="#111"/>
<circle cx="134.0" cy="360.9" r="2.75" fill="#111"/>
<circle cx="131.0" cy="350.0" r="2.75" fill="#111"/>
<line x1="126.4" y1="350.2" x2="141.8" y2="350.2" stroke="#1a1a1a" stroke-width="1.5"/>
<line x1="158.5" y1="331.8" x2="158.5" y2="342.0" stroke="#333" stroke-width="1.0"/>
<line x1="155.5" y1="331.8" x2="161.5" y2="331.8" stroke="#333" stroke-width="1.0"/>
<line x1="155.5" y1="342.0" x2="161.5" y2="342.0" stroke="#333" stroke-width="1.0"/>
<path d="M158.30 314.50 L160.85 319.90 L155.75 319.90 Z" fill="#fff" stroke="#111" stroke-width="1.45" stroke-linejoin="miter"/>
<path d="M152.40 326.30 L154.95 331.70 L149.85 331.70 Z" fill="#fff" stroke="#111" stroke-width="1.45" stroke-linejoin="miter"/>
<path d="M164.20 326.30 L166.75 331.70 L161.65 331.70 Z" fill="#fff" stroke="#111" stroke-width="1.45" stroke-linejoin="miter"/>
<path d="M158.30 339.30 L160.85 344.70 L155.75 344.70 Z" fill="#fff" stroke="#111" stroke-width="1.45" stroke-linejoin="miter"/>
<path d="M152.40 348.70 L154.95 354.10 L149.85 354.10 Z" fill="#fff" stroke="#111" stroke-width="1.45" stroke-linejoin="miter"/>
<path d="M164.20 347.50 L166.75 352.90 L161.65 352.90 Z" fill="#fff" stroke="#111" stroke-width="1.45" stroke-linejoin="miter"/>
<line x1="150.0" y1="336.6" x2="165.8" y2="336.6" stroke="#1a1a1a" stroke-width="1.5"/>
<polyline points="70.3,302.1 70.3,294.7 134.2,294.7 134.2,334.6" fill="none" stroke="#262626" stroke-width="1.45" stroke-linejoin="miter"/>
<path d="M95.00 289.10L95.00 283.10M92.40 287.60L97.60 284.60M92.40 284.60L97.60 287.60" stroke="#111" stroke-width="1.7" stroke-linecap="butt"/>
<path d="M102.20 289.10L102.20 283.10M99.60 287.60L104.80 284.60M99.60 284.60L104.80 287.60" stroke="#111" stroke-width="1.7" stroke-linecap="butt"/>
<path d="M109.40 289.10L109.40 283.10M106.80 287.60L112.00 284.60M106.80 284.60L112.00 287.60" stroke="#111" stroke-width="1.7" stroke-linecap="butt"/>
<line x1="264.0" y1="267.5" x2="264.0" y2="405.7" stroke="#262626" stroke-width="1.45"/>
<line x1="263.3" y1="405.0" x2="388.2" y2="405.0" stroke="#262626" stroke-width="1.45"/>
<line x1="258.5" y1="267.5" x2="264.0" y2="267.5" stroke="#262626" stroke-width="1.45"/>
<text x="258.0" y="271.3" font-size="9.6" font-weight="bold" font-style="normal" text-anchor="end" fill="#1a1a1a" >1.5</text>
<line x1="258.5" y1="313.3" x2="264.0" y2="313.3" stroke="#262626" stroke-width="1.45"/>
<text x="258.0" y="317.1" font-size="9.6" font-weight="bold" font-style="normal" text-anchor="end" fill="#1a1a1a" >1.0</text>
<line x1="258.5" y1="359.3" x2="264.0" y2="359.3" stroke="#262626" stroke-width="1.45"/>
<text x="258.0" y="363.1" font-size="9.6" font-weight="bold" font-style="normal" text-anchor="end" fill="#1a1a1a" >0.5</text>
<line x1="258.5" y1="405.0" x2="264.0" y2="405.0" stroke="#262626" stroke-width="1.45"/>
<text x="258.0" y="408.8" font-size="9.6" font-weight="bold" font-style="normal" text-anchor="end" fill="#1a1a1a" >0.0</text>
<line x1="294.0" y1="405.0" x2="294.0" y2="410.8" stroke="#262626" stroke-width="1.45"/>
<line x1="360.6" y1="405.0" x2="360.6" y2="410.8" stroke="#262626" stroke-width="1.45"/>
<text x="293.3" y="422.3" font-size="9.9" font-weight="bold" font-style="normal" text-anchor="middle" fill="#1a1a1a" textLength="32.6" lengthAdjust="spacingAndGlyphs">Control</text>
<text x="360.2" y="422.3" font-size="9.9" font-weight="bold" font-style="normal" text-anchor="middle" fill="#1a1a1a" textLength="17.4" lengthAdjust="spacingAndGlyphs">Z3K</text>
<text x="312.5" y="245.5" font-size="13.0" font-weight="normal" font-style="italic" text-anchor="middle" fill="#1a1a1a" >Ctsd</text>
<text x="233.4" y="335.9" font-size="12.3" font-weight="normal" font-style="normal" text-anchor="middle" fill="#222" textLength="75.4" lengthAdjust="spacingAndGlyphs" transform="rotate(-90 233.4 335.9)">Relative levels</text>
<line x1="280.5" y1="308.3" x2="280.5" y2="315.8" stroke="#333" stroke-width="1.0"/>
<line x1="277.2" y1="308.3" x2="283.8" y2="308.3" stroke="#333" stroke-width="1.0"/>
<line x1="277.2" y1="315.8" x2="283.8" y2="315.8" stroke="#333" stroke-width="1.0"/>
<circle cx="274.6" cy="307.3" r="2.75" fill="#111"/>
<circle cx="286.4" cy="304.0" r="2.75" fill="#111"/>
<circle cx="280.6" cy="315.3" r="2.75" fill="#111"/>
<circle cx="280.6" cy="321.6" r="2.75" fill="#111"/>
<line x1="272.1" y1="312.3" x2="289.0" y2="312.3" stroke="#1a1a1a" stroke-width="1.5"/>
<line x1="306.5" y1="326.6" x2="306.5" y2="336.7" stroke="#333" stroke-width="1.0"/>
<line x1="303.5" y1="326.6" x2="309.5" y2="326.6" stroke="#333" stroke-width="1.0"/>
<line x1="303.5" y1="336.7" x2="309.5" y2="336.7" stroke="#333" stroke-width="1.0"/>
<path d="M299.70 319.60 L302.25 325.00 L297.15 325.00 Z" fill="#fff" stroke="#111" stroke-width="1.45" stroke-linejoin="miter"/>
<path d="M312.30 314.60 L314.85 320.00 L309.75 320.00 Z" fill="#fff" stroke="#111" stroke-width="1.45" stroke-linejoin="miter"/>
<path d="M312.30 324.70 L314.85 330.10 L309.75 330.10 Z" fill="#fff" stroke="#111" stroke-width="1.45" stroke-linejoin="miter"/>
<path d="M299.70 330.70 L302.25 336.10 L297.15 336.10 Z" fill="#fff" stroke="#111" stroke-width="1.45" stroke-linejoin="miter"/>
<path d="M312.30 335.70 L314.85 341.10 L309.75 341.10 Z" fill="#fff" stroke="#111" stroke-width="1.45" stroke-linejoin="miter"/>
<path d="M306.00 351.60 L308.55 357.00 L303.45 357.00 Z" fill="#fff" stroke="#111" stroke-width="1.45" stroke-linejoin="miter"/>
<line x1="298.2" y1="331.6" x2="315.3" y2="331.6" stroke="#1a1a1a" stroke-width="1.5"/>
<circle cx="348.0" cy="338.7" r="2.75" fill="#111"/>
<circle cx="341.7" cy="346.2" r="2.75" fill="#111"/>
<circle cx="348.0" cy="348.0" r="2.75" fill="#111"/>
<circle cx="354.3" cy="346.7" r="2.75" fill="#111"/>
<circle cx="348.0" cy="358.0" r="2.75" fill="#111"/>
<circle cx="343.0" cy="350.0" r="2.75" fill="#111"/>
<line x1="340.5" y1="347.5" x2="355.6" y2="347.5" stroke="#1a1a1a" stroke-width="1.5"/>
<line x1="373.5" y1="326.6" x2="373.5" y2="336.7" stroke="#333" stroke-width="1.0"/>
<line x1="370.5" y1="326.6" x2="376.5" y2="326.6" stroke="#333" stroke-width="1.0"/>
<line x1="370.5" y1="336.7" x2="376.5" y2="336.7" stroke="#333" stroke-width="1.0"/>
<path d="M373.20 309.60 L375.75 315.00 L370.65 315.00 Z" fill="#fff" stroke="#111" stroke-width="1.45" stroke-linejoin="miter"/>
<path d="M367.40 321.40 L369.95 326.80 L364.85 326.80 Z" fill="#fff" stroke="#111" stroke-width="1.45" stroke-linejoin="miter"/>
<path d="M380.00 322.20 L382.55 327.60 L377.45 327.60 Z" fill="#fff" stroke="#111" stroke-width="1.45" stroke-linejoin="miter"/>
<path d="M373.20 335.20 L375.75 340.60 L370.65 340.60 Z" fill="#fff" stroke="#111" stroke-width="1.45" stroke-linejoin="miter"/>
<path d="M367.40 345.30 L369.95 350.70 L364.85 350.70 Z" fill="#fff" stroke="#111" stroke-width="1.45" stroke-linejoin="miter"/>
<path d="M379.20 344.00 L381.75 349.40 L376.65 349.40 Z" fill="#fff" stroke="#111" stroke-width="1.45" stroke-linejoin="miter"/>
<line x1="365.1" y1="331.6" x2="382.0" y2="331.6" stroke="#1a1a1a" stroke-width="1.5"/>
<polyline points="280.5,295.2 280.5,287.9 306.3,287.9 306.3,308.2" fill="none" stroke="#262626" stroke-width="1.45" stroke-linejoin="miter"/>
<path d="M293.30 281.10L293.30 275.10M290.70 279.60L295.90 276.60M290.70 276.60L295.90 279.60" stroke="#111" stroke-width="1.7" stroke-linecap="butt"/>
<polyline points="348.3,330.4 348.3,287.9 373.4,287.9 373.4,303.5" fill="none" stroke="#262626" stroke-width="1.45" stroke-linejoin="miter"/>
<path d="M360.80 281.10L360.80 275.10M358.20 279.60L363.40 276.60M358.20 276.60L363.40 279.60" stroke="#111" stroke-width="1.7" stroke-linecap="butt"/>
<line x1="563.2" y1="278.3" x2="563.2" y2="400.3" stroke="#262626" stroke-width="1.45"/>
<line x1="562.5" y1="399.6" x2="675.0" y2="399.6" stroke="#262626" stroke-width="1.45"/>
<line x1="557.7" y1="278.3" x2="563.2" y2="278.3" stroke="#262626" stroke-width="1.45"/>
<text x="557.9" y="282.1" font-size="9.1" font-weight="bold" font-style="normal" text-anchor="end" fill="#1a1a1a" >1.5</text>
<line x1="557.7" y1="318.6" x2="563.2" y2="318.6" stroke="#262626" stroke-width="1.45"/>
<text x="557.9" y="322.4" font-size="9.1" font-weight="bold" font-style="normal" text-anchor="end" fill="#1a1a1a" >1.0</text>
<line x1="557.7" y1="359.3" x2="563.2" y2="359.3" stroke="#262626" stroke-width="1.45"/>
<text x="557.9" y="363.1" font-size="9.1" font-weight="bold" font-style="normal" text-anchor="end" fill="#1a1a1a" >0.5</text>
<line x1="557.7" y1="399.6" x2="563.2" y2="399.6" stroke="#262626" stroke-width="1.45"/>
<text x="557.9" y="403.4" font-size="9.1" font-weight="bold" font-style="normal" text-anchor="end" fill="#1a1a1a" >0.0</text>
<line x1="588.9" y1="399.6" x2="588.9" y2="405.4" stroke="#262626" stroke-width="1.45"/>
<line x1="648.7" y1="399.6" x2="648.7" y2="405.4" stroke="#262626" stroke-width="1.45"/>
<text x="589.4" y="414.9" font-size="9.0" font-weight="bold" font-style="normal" text-anchor="middle" fill="#1a1a1a" textLength="29.6" lengthAdjust="spacingAndGlyphs">Control</text>
<text x="649.0" y="414.9" font-size="9.0" font-weight="bold" font-style="normal" text-anchor="middle" fill="#1a1a1a" textLength="15.9" lengthAdjust="spacingAndGlyphs">Z3K</text>
<text x="614.4" y="248.8" font-size="13.0" font-weight="normal" font-style="italic" text-anchor="middle" fill="#1a1a1a" >Becn1</text>
<text x="524.3" y="252.0" font-size="11.2" font-weight="bold" font-style="normal" text-anchor="start" fill="#1a1a1a" >(f)</text>
<text x="537.8" y="335.9" font-size="12.3" font-weight="normal" font-style="normal" text-anchor="middle" fill="#222" textLength="75.4" lengthAdjust="spacingAndGlyphs" transform="rotate(-90 537.8 335.9)">Relative levels</text>
<line x1="578.5" y1="308.0" x2="578.5" y2="326.8" stroke="#333" stroke-width="1.0"/>
<line x1="575.2" y1="308.0" x2="581.8" y2="308.0" stroke="#333" stroke-width="1.0"/>
<line x1="575.2" y1="326.8" x2="581.8" y2="326.8" stroke="#333" stroke-width="1.0"/>
<circle cx="578.5" cy="296.3" r="2.75" fill="#111"/>
<circle cx="578.5" cy="308.9" r="2.75" fill="#111"/>
<circle cx="578.5" cy="321.2" r="2.75" fill="#111"/>
<circle cx="578.5" cy="341.9" r="2.75" fill="#111"/>
<line x1="571.6" y1="317.4" x2="585.5" y2="317.4" stroke="#1a1a1a" stroke-width="1.5"/>
<line x1="600.5" y1="332.0" x2="600.5" y2="337.0" stroke="#333" stroke-width="1.0"/>
<line x1="598.0" y1="332.0" x2="603.0" y2="332.0" stroke="#333" stroke-width="1.0"/>
<line x1="598.0" y1="337.0" x2="603.0" y2="337.0" stroke="#333" stroke-width="1.0"/>
<path d="M605.90 324.90 L608.45 330.30 L603.35 330.30 Z" fill="#fff" stroke="#111" stroke-width="1.45" stroke-linejoin="miter"/>
<path d="M600.50 327.40 L603.05 332.80 L597.95 332.80 Z" fill="#fff" stroke="#111" stroke-width="1.45" stroke-linejoin="miter"/>
<path d="M605.90 331.60 L608.45 337.00 L603.35 337.00 Z" fill="#fff" stroke="#111" stroke-width="1.45" stroke-linejoin="miter"/>
<path d="M600.50 334.80 L603.05 340.20 L597.95 340.20 Z" fill="#fff" stroke="#111" stroke-width="1.45" stroke-linejoin="miter"/>
<path d="M605.90 337.00 L608.45 342.40 L603.35 342.40 Z" fill="#fff" stroke="#111" stroke-width="1.45" stroke-linejoin="miter"/>
<path d="M595.30 337.30 L597.85 342.70 L592.75 342.70 Z" fill="#fff" stroke="#111" stroke-width="1.45" stroke-linejoin="miter"/>
<line x1="593.2" y1="334.6" x2="608.4" y2="334.6" stroke="#1a1a1a" stroke-width="1.5"/>
<circle cx="633.0" cy="323.6" r="2.75" fill="#111"/>
<circle cx="637.7" cy="320.8" r="2.75" fill="#111"/>
<circle cx="643.0" cy="324.5" r="2.75" fill="#111"/>
<circle cx="637.7" cy="326.8" r="2.75" fill="#111"/>
<circle cx="640.6" cy="331.1" r="2.75" fill="#111"/>
<circle cx="634.9" cy="334.9" r="2.75" fill="#111"/>
<line x1="630.2" y1="326.4" x2="645.3" y2="326.4" stroke="#1a1a1a" stroke-width="1.5"/>
<line x1="660.5" y1="322.6" x2="660.5" y2="327.9" stroke="#333" stroke-width="1.0"/>
<line x1="657.7" y1="322.6" x2="663.3" y2="322.6" stroke="#333" stroke-width="1.0"/>
<line x1="657.7" y1="327.9" x2="663.3" y2="327.9" stroke="#333" stroke-width="1.0"/>
<path d="M654.70 317.70 L657.25 323.10 L652.15 323.10 Z" fill="#fff" stroke="#111" stroke-width="1.45" stroke-linejoin="miter"/>
<path d="M665.10 314.30 L667.65 319.70 L662.55 319.70 Z" fill="#fff" stroke="#111" stroke-width="1.45" stroke-linejoin="miter"/>
<path d="M654.70 323.70 L657.25 329.10 L652.15 329.10 Z" fill="#fff" stroke="#111" stroke-width="1.45" stroke-linejoin="miter"/>
<path d="M665.10 320.90 L667.65 326.30 L662.55 326.30 Z" fill="#fff" stroke="#111" stroke-width="1.45" stroke-linejoin="miter"/>
<path d="M654.70 329.00 L657.25 334.40 L652.15 334.40 Z" fill="#fff" stroke="#111" stroke-width="1.45" stroke-linejoin="miter"/>
<path d="M665.10 328.40 L667.65 333.80 L662.55 333.80 Z" fill="#fff" stroke="#111" stroke-width="1.45" stroke-linejoin="miter"/>
<line x1="652.5" y1="325.5" x2="667.9" y2="325.5" stroke="#1a1a1a" stroke-width="1.5"/>
<polyline points="577.9,290.0 577.9,282.3 600.5,282.3 600.5,320.5" fill="none" stroke="#262626" stroke-width="1.45" stroke-linejoin="miter"/>
<path d="M589.50 277.00L589.50 271.00M586.90 275.50L592.10 272.50M586.90 272.50L592.10 275.50" stroke="#111" stroke-width="1.7" stroke-linecap="butt"/>
<line x1="58.2" y1="486.5" x2="58.2" y2="619.5" stroke="#262626" stroke-width="1.45"/>
<line x1="57.5" y1="618.8" x2="180.0" y2="618.8" stroke="#262626" stroke-width="1.45"/>
<line x1="52.7" y1="486.5" x2="58.2" y2="486.5" stroke="#262626" stroke-width="1.45"/>
<text x="51.6" y="490.3" font-size="9.6" font-weight="bold" font-style="normal" text-anchor="end" fill="#1a1a1a" >3</text>
<line x1="52.7" y1="530.6" x2="58.2" y2="530.6" stroke="#262626" stroke-width="1.45"/>
<text x="51.6" y="534.4" font-size="9.6" font-weight="bold" font-style="normal" text-anchor="end" fill="#1a1a1a" >2</text>
<line x1="52.7" y1="574.6" x2="58.2" y2="574.6" stroke="#262626" stroke-width="1.45"/>
<text x="51.6" y="578.4" font-size="9.6" font-weight="bold" font-style="normal" text-anchor="end" fill="#1a1a1a" >1</text>
<line x1="52.7" y1="618.8" x2="58.2" y2="618.8" stroke="#262626" stroke-width="1.45"/>
<text x="51.6" y="622.6" font-size="9.6" font-weight="bold" font-style="normal" text-anchor="end" fill="#1a1a1a" >0</text>
<line x1="86.6" y1="618.8" x2="86.6" y2="624.6" stroke="#262626" stroke-width="1.45"/>
<line x1="151.0" y1="618.8" x2="151.0" y2="624.6" stroke="#262626" stroke-width="1.45"/>
<text x="86.7" y="635.2" font-size="9.9" font-weight="bold" font-style="normal" text-anchor="middle" fill="#1a1a1a" textLength="32.6" lengthAdjust="spacingAndGlyphs">Control</text>
<text x="150.9" y="635.2" font-size="9.9" font-weight="bold" font-style="normal" text-anchor="middle" fill="#1a1a1a" textLength="17.4" lengthAdjust="spacingAndGlyphs">Z3K</text>
<text x="120.9" y="456.6" font-size="13.0" font-weight="normal" font-style="italic" text-anchor="middle" fill="#1a1a1a" >Sqstm1/p62</text>
<text x="7.3" y="459.0" font-size="11.2" font-weight="bold" font-style="normal" text-anchor="start" fill="#1a1a1a" >(g)</text>
<text x="17.2" y="535.9" font-size="12.3" font-weight="normal" font-style="normal" text-anchor="middle" fill="#222" textLength="75.4" lengthAdjust="spacingAndGlyphs" transform="rotate(-90 17.2 535.9)">Relative levels</text>
<line x1="74.5" y1="567.1" x2="74.5" y2="577.5" stroke="#333" stroke-width="1.0"/>
<line x1="71.2" y1="567.1" x2="77.8" y2="567.1" stroke="#333" stroke-width="1.0"/>
<line x1="71.2" y1="577.5" x2="77.8" y2="577.5" stroke="#333" stroke-width="1.0"/>
<circle cx="74.3" cy="561.4" r="2.75" fill="#111"/>
<circle cx="81.3" cy="577.0" r="2.75" fill="#111"/>
<circle cx="68.8" cy="579.6" r="2.75" fill="#111"/>
<circle cx="74.3" cy="571.0" r="2.75" fill="#111"/>
<line x1="66.2" y1="572.3" x2="82.6" y2="572.3" stroke="#1a1a1a" stroke-width="1.5"/>
<path d="M93.10 573.80 L95.65 579.20 L90.55 579.20 Z" fill="#fff" stroke="#111" stroke-width="1.45" stroke-linejoin="miter"/>
<path d="M98.30 570.40 L100.85 575.80 L95.75 575.80 Z" fill="#fff" stroke="#111" stroke-width="1.45" stroke-linejoin="miter"/>
<path d="M104.30 567.80 L106.85 573.20 L101.75 573.20 Z" fill="#fff" stroke="#111" stroke-width="1.45" stroke-linejoin="miter"/>
<path d="M104.30 574.80 L106.85 580.20 L101.75 580.20 Z" fill="#fff" stroke="#111" stroke-width="1.45" stroke-linejoin="miter"/>
<path d="M98.30 574.30 L100.85 579.70 L95.75 579.70 Z" fill="#fff" stroke="#111" stroke-width="1.45" stroke-linejoin="miter"/>
<path d="M93.00 571.30 L95.55 576.70 L90.45 576.70 Z" fill="#fff" stroke="#111" stroke-width="1.45" stroke-linejoin="miter"/>
<line x1="90.5" y1="573.9" x2="106.9" y2="573.9" stroke="#1a1a1a" stroke-width="1.5"/>
<circle cx="139.3" cy="562.7" r="2.75" fill="#111"/>
<circle cx="133.0" cy="570.5" r="2.75" fill="#111"/>
<circle cx="133.0" cy="578.3" r="2.75" fill="#111"/>
<circle cx="140.1" cy="574.9" r="2.75" fill="#111"/>
<circle cx="144.5" cy="573.9" r="2.75" fill="#111"/>
<circle cx="137.0" cy="576.0" r="2.75" fill="#111"/>
<line x1="130.9" y1="570.5" x2="147.1" y2="570.5" stroke="#1a1a1a" stroke-width="1.5"/>
<line x1="163.5" y1="540.5" x2="163.5" y2="560.8" stroke="#333" stroke-width="1.0"/>
<line x1="159.3" y1="540.5" x2="167.7" y2="540.5" stroke="#333" stroke-width="1.0"/>
<line x1="159.3" y1="560.8" x2="167.7" y2="560.8" stroke="#333" stroke-width="1.0"/>
<path d="M163.00 502.00 L165.55 507.40 L160.45 507.40 Z" fill="#fff" stroke="#111" stroke-width="1.45" stroke-linejoin="miter"/>
<path d="M163.00 541.70 L165.55 547.10 L160.45 547.10 Z" fill="#fff" stroke="#111" stroke-width="1.45" stroke-linejoin="miter"/>
<path d="M163.00 550.80 L165.55 556.20 L160.45 556.20 Z" fill="#fff" stroke="#111" stroke-width="1.45" stroke-linejoin="miter"/>
<path d="M163.00 557.40 L165.55 562.80 L160.45 562.80 Z" fill="#fff" stroke="#111" stroke-width="1.45" stroke-linejoin="miter"/>
<path d="M157.00 568.60 L159.55 574.00 L154.45 574.00 Z" fill="#fff" stroke="#111" stroke-width="1.45" stroke-linejoin="miter"/>
<path d="M169.30 567.00 L171.85 572.40 L166.75 572.40 Z" fill="#fff" stroke="#111" stroke-width="1.45" stroke-linejoin="miter"/>
<line x1="155.0" y1="550.9" x2="171.4" y2="550.9" stroke="#1a1a1a" stroke-width="1.5"/>
<polyline points="98.4,560.8 98.4,489.0 163.4,489.0 163.4,496.4" fill="none" stroke="#262626" stroke-width="1.45" stroke-linejoin="miter"/>
<path d="M130.90 483.50L130.90 477.50M128.30 482.00L133.50 479.00M128.30 479.00L133.50 482.00" stroke="#111" stroke-width="1.7" stroke-linecap="butt"/>
<line x1="270.3" y1="494.2" x2="270.3" y2="616.4" stroke="#262626" stroke-width="1.45"/>
<line x1="269.6" y1="615.7" x2="382.0" y2="615.7" stroke="#262626" stroke-width="1.45"/>
<line x1="264.8" y1="494.2" x2="270.3" y2="494.2" stroke="#262626" stroke-width="1.45"/>
<text x="265.1" y="498.0" font-size="9.1" font-weight="bold" font-style="normal" text-anchor="end" fill="#1a1a1a" >1.5</text>
<line x1="264.8" y1="534.7" x2="270.3" y2="534.7" stroke="#262626" stroke-width="1.45"/>
<text x="265.1" y="538.5" font-size="9.1" font-weight="bold" font-style="normal" text-anchor="end" fill="#1a1a1a" >1.0</text>
<line x1="264.8" y1="575.3" x2="270.3" y2="575.3" stroke="#262626" stroke-width="1.45"/>
<text x="265.1" y="579.1" font-size="9.1" font-weight="bold" font-style="normal" text-anchor="end" fill="#1a1a1a" >0.5</text>
<line x1="264.8" y1="615.7" x2="270.3" y2="615.7" stroke="#262626" stroke-width="1.45"/>
<text x="265.1" y="619.5" font-size="9.1" font-weight="bold" font-style="normal" text-anchor="end" fill="#1a1a1a" >0.0</text>
<line x1="296.5" y1="615.7" x2="296.5" y2="621.5" stroke="#262626" stroke-width="1.45"/>
<line x1="355.7" y1="615.7" x2="355.7" y2="621.5" stroke="#262626" stroke-width="1.45"/>
<text x="296.2" y="631.0" font-size="9.0" font-weight="bold" font-style="normal" text-anchor="middle" fill="#1a1a1a" textLength="29.6" lengthAdjust="spacingAndGlyphs">Control</text>
<text x="355.8" y="631.0" font-size="9.0" font-weight="bold" font-style="normal" text-anchor="middle" fill="#1a1a1a" textLength="15.9" lengthAdjust="spacingAndGlyphs">Z3K</text>
<text x="307.9" y="460.0" font-size="13.0" font-weight="normal" font-style="italic" text-anchor="middle" fill="#1a1a1a" >Lamp1</text>
<text x="229.1" y="459.0" font-size="11.2" font-weight="bold" font-style="normal" text-anchor="start" fill="#1a1a1a" >(h)</text>
<text x="233.2" y="529.4" font-size="12.3" font-weight="normal" font-style="normal" text-anchor="middle" fill="#222" textLength="75.4" lengthAdjust="spacingAndGlyphs" transform="rotate(-90 233.2 529.4)">Relative levels</text>
<line x1="285.5" y1="524.3" x2="285.5" y2="540.4" stroke="#333" stroke-width="1.0"/>
<line x1="282.2" y1="524.3" x2="288.8" y2="524.3" stroke="#333" stroke-width="1.0"/>
<line x1="282.2" y1="540.4" x2="288.8" y2="540.4" stroke="#333" stroke-width="1.0"/>
<circle cx="285.3" cy="509.1" r="2.75" fill="#111"/>
<circle cx="285.3" cy="532.6" r="2.75" fill="#111"/>
<circle cx="285.3" cy="540.4" r="2.75" fill="#111"/>
<circle cx="285.3" cy="547.7" r="2.75" fill="#111"/>
<line x1="277.7" y1="532.6" x2="293.1" y2="532.6" stroke="#1a1a1a" stroke-width="1.5"/>
<path d="M303.00 545.00 L305.55 550.40 L300.45 550.40 Z" fill="#fff" stroke="#111" stroke-width="1.45" stroke-linejoin="miter"/>
<path d="M309.60 543.70 L312.15 549.10 L307.05 549.10 Z" fill="#fff" stroke="#111" stroke-width="1.45" stroke-linejoin="miter"/>
<path d="M313.50 545.60 L316.05 551.00 L310.95 551.00 Z" fill="#fff" stroke="#111" stroke-width="1.45" stroke-linejoin="miter"/>
<path d="M309.60 550.30 L312.15 555.70 L307.05 555.70 Z" fill="#fff" stroke="#111" stroke-width="1.45" stroke-linejoin="miter"/>
<path d="M307.70 558.60 L310.25 564.00 L305.15 564.00 Z" fill="#fff" stroke="#111" stroke-width="1.45" stroke-linejoin="miter"/>
<path d="M305.00 546.30 L307.55 551.70 L302.45 551.70 Z" fill="#fff" stroke="#111" stroke-width="1.45" stroke-linejoin="miter"/>
<line x1="299.7" y1="550.4" x2="315.6" y2="550.4" stroke="#1a1a1a" stroke-width="1.5"/>
<line x1="345.5" y1="558.7" x2="345.5" y2="563.4" stroke="#333" stroke-width="1.0"/>
<line x1="343.0" y1="558.7" x2="348.0" y2="558.7" stroke="#333" stroke-width="1.0"/>
<line x1="343.0" y1="563.4" x2="348.0" y2="563.4" stroke="#333" stroke-width="1.0"/>
<circle cx="344.8" cy="547.5" r="2.75" fill="#111"/>
<circle cx="339.6" cy="561.8" r="2.75" fill="#111"/>
<circle cx="344.8" cy="562.6" r="2.75" fill="#111"/>
<circle cx="350.0" cy="563.4" r="2.75" fill="#111"/>
<circle cx="339.6" cy="568.6" r="2.75" fill="#111"/>
<circle cx="347.0" cy="562.0" r="2.75" fill="#111"/>
<line x1="337.0" y1="561.3" x2="352.6" y2="561.3" stroke="#1a1a1a" stroke-width="1.5"/>
<line x1="367.5" y1="549.6" x2="367.5" y2="558.7" stroke="#333" stroke-width="1.0"/>
<line x1="364.7" y1="549.6" x2="370.3" y2="549.6" stroke="#333" stroke-width="1.0"/>
<line x1="364.7" y1="558.7" x2="370.3" y2="558.7" stroke="#333" stroke-width="1.0"/>
<path d="M367.00 529.90 L369.55 535.30 L364.45 535.30 Z" fill="#fff" stroke="#111" stroke-width="1.45" stroke-linejoin="miter"/>
<path d="M361.70 546.90 L364.25 552.30 L359.15 552.30 Z" fill="#fff" stroke="#111" stroke-width="1.45" stroke-linejoin="miter"/>
<path d="M367.00 552.10 L369.55 557.50 L364.45 557.50 Z" fill="#fff" stroke="#111" stroke-width="1.45" stroke-linejoin="miter"/>
<path d="M361.70 561.70 L364.25 567.10 L359.15 567.10 Z" fill="#fff" stroke="#111" stroke-width="1.45" stroke-linejoin="miter"/>
<path d="M367.00 558.60 L369.55 564.00 L364.45 564.00 Z" fill="#fff" stroke="#111" stroke-width="1.45" stroke-linejoin="miter"/>
<path d="M372.70 559.10 L375.25 564.50 L370.15 564.50 Z" fill="#fff" stroke="#111" stroke-width="1.45" stroke-linejoin="miter"/>
<line x1="358.6" y1="554.0" x2="374.8" y2="554.0" stroke="#1a1a1a" stroke-width="1.5"/>
<polyline points="285.4,501.5 285.4,495.2 344.6,495.2 344.6,540.0" fill="none" stroke="#262626" stroke-width="1.45" stroke-linejoin="miter"/>
<path d="M311.65 489.30L311.65 483.30M309.05 487.80L314.25 484.80M309.05 484.80L314.25 487.80" stroke="#111" stroke-width="1.7" stroke-linecap="butt"/>
<path d="M318.35 489.30L318.35 483.30M315.75 487.80L320.95 484.80M315.75 484.80L320.95 487.80" stroke="#111" stroke-width="1.7" stroke-linecap="butt"/>
<line x1="452.3" y1="480.0" x2="452.3" y2="613.2" stroke="#262626" stroke-width="1.45"/>
<line x1="451.6" y1="612.5" x2="574.5" y2="612.5" stroke="#262626" stroke-width="1.45"/>
<line x1="446.8" y1="480.0" x2="452.3" y2="480.0" stroke="#262626" stroke-width="1.45"/>
<text x="446.0" y="483.8" font-size="9.6" font-weight="bold" font-style="normal" text-anchor="end" fill="#1a1a1a" >1.5</text>
<line x1="446.8" y1="524.2" x2="452.3" y2="524.2" stroke="#262626" stroke-width="1.45"/>
<text x="446.0" y="528.0" font-size="9.6" font-weight="bold" font-style="normal" text-anchor="end" fill="#1a1a1a" >1.0</text>
<line x1="446.8" y1="568.5" x2="452.3" y2="568.5" stroke="#262626" stroke-width="1.45"/>
<text x="446.0" y="572.3" font-size="9.6" font-weight="bold" font-style="normal" text-anchor="end" fill="#1a1a1a" >0.5</text>
<line x1="446.8" y1="612.5" x2="452.3" y2="612.5" stroke="#262626" stroke-width="1.45"/>
<text x="446.0" y="616.3" font-size="9.6" font-weight="bold" font-style="normal" text-anchor="end" fill="#1a1a1a" >0.0</text>
<line x1="480.4" y1="612.5" x2="480.4" y2="618.3" stroke="#262626" stroke-width="1.45"/>
<line x1="545.5" y1="612.5" x2="545.5" y2="618.3" stroke="#262626" stroke-width="1.45"/>
<text x="481.1" y="629.3" font-size="9.9" font-weight="bold" font-style="normal" text-anchor="middle" fill="#1a1a1a" textLength="32.6" lengthAdjust="spacingAndGlyphs">Control</text>
<text x="545.5" y="629.3" font-size="9.9" font-weight="bold" font-style="normal" text-anchor="middle" fill="#1a1a1a" textLength="17.4" lengthAdjust="spacingAndGlyphs">Z3K</text>
<text x="495.8" y="463.3" font-size="13.0" font-weight="normal" font-style="italic" text-anchor="middle" fill="#1a1a1a" >Lamp2a</text>
<text x="410.8" y="459.0" font-size="11.2" font-weight="bold" font-style="normal" text-anchor="start" fill="#1a1a1a" >(i)</text>
<text x="415.3" y="534.4" font-size="12.3" font-weight="normal" font-style="normal" text-anchor="middle" fill="#222" textLength="75.4" lengthAdjust="spacingAndGlyphs" transform="rotate(-90 415.3 534.4)">Relative levels</text>
<line x1="468.5" y1="510.7" x2="468.5" y2="528.4" stroke="#333" stroke-width="1.0"/>
<line x1="465.2" y1="510.7" x2="471.8" y2="510.7" stroke="#333" stroke-width="1.0"/>
<line x1="465.2" y1="528.4" x2="471.8" y2="528.4" stroke="#333" stroke-width="1.0"/>
<circle cx="468.5" cy="495.4" r="2.75" fill="#111"/>
<circle cx="468.5" cy="518.1" r="2.75" fill="#111"/>
<circle cx="463.0" cy="533.3" r="2.75" fill="#111"/>
<circle cx="474.1" cy="531.1" r="2.75" fill="#111"/>
<line x1="460.2" y1="519.5" x2="476.8" y2="519.5" stroke="#1a1a1a" stroke-width="1.5"/>
<line x1="493.5" y1="527.8" x2="493.5" y2="535.3" stroke="#333" stroke-width="1.0"/>
<line x1="490.7" y1="527.8" x2="496.3" y2="527.8" stroke="#333" stroke-width="1.0"/>
<line x1="490.7" y1="535.3" x2="496.3" y2="535.3" stroke="#333" stroke-width="1.0"/>
<path d="M493.40 514.60 L495.95 520.00 L490.85 520.00 Z" fill="#fff" stroke="#111" stroke-width="1.45" stroke-linejoin="miter"/>
<path d="M489.30 524.60 L491.85 530.00 L486.75 530.00 Z" fill="#fff" stroke="#111" stroke-width="1.45" stroke-linejoin="miter"/>
<path d="M496.20 524.60 L498.75 530.00 L493.65 530.00 Z" fill="#fff" stroke="#111" stroke-width="1.45" stroke-linejoin="miter"/>
<path d="M487.10 537.00 L489.65 542.40 L484.55 542.40 Z" fill="#fff" stroke="#111" stroke-width="1.45" stroke-linejoin="miter"/>
<path d="M493.40 537.00 L495.95 542.40 L490.85 542.40 Z" fill="#fff" stroke="#111" stroke-width="1.45" stroke-linejoin="miter"/>
<path d="M499.80 537.00 L502.35 542.40 L497.25 542.40 Z" fill="#fff" stroke="#111" stroke-width="1.45" stroke-linejoin="miter"/>
<line x1="485.1" y1="531.4" x2="501.7" y2="531.4" stroke="#1a1a1a" stroke-width="1.5"/>
<line x1="533.5" y1="518.7" x2="533.5" y2="532.5" stroke="#333" stroke-width="1.0"/>
<line x1="530.2" y1="518.7" x2="536.8" y2="518.7" stroke="#333" stroke-width="1.0"/>
<line x1="530.2" y1="532.5" x2="536.8" y2="532.5" stroke="#333" stroke-width="1.0"/>
<circle cx="533.6" cy="493.2" r="2.75" fill="#111"/>
<circle cx="533.6" cy="520.9" r="2.75" fill="#111"/>
<circle cx="533.6" cy="527.8" r="2.75" fill="#111"/>
<circle cx="528.0" cy="538.9" r="2.75" fill="#111"/>
<circle cx="539.1" cy="536.1" r="2.75" fill="#111"/>
<circle cx="533.6" cy="533.3" r="2.75" fill="#111"/>
<line x1="525.3" y1="525.0" x2="541.9" y2="525.0" stroke="#1a1a1a" stroke-width="1.5"/>
<line x1="557.5" y1="515.4" x2="557.5" y2="529.2" stroke="#333" stroke-width="1.0"/>
<line x1="554.2" y1="515.4" x2="560.8" y2="515.4" stroke="#333" stroke-width="1.0"/>
<line x1="554.2" y1="529.2" x2="560.8" y2="529.2" stroke="#333" stroke-width="1.0"/>
<path d="M557.90 493.30 L560.45 498.70 L555.35 498.70 Z" fill="#fff" stroke="#111" stroke-width="1.45" stroke-linejoin="miter"/>
<path d="M557.90 506.30 L560.45 511.70 L555.35 511.70 Z" fill="#fff" stroke="#111" stroke-width="1.45" stroke-linejoin="miter"/>
<path d="M552.40 523.70 L554.95 529.10 L549.85 529.10 Z" fill="#fff" stroke="#111" stroke-width="1.45" stroke-linejoin="miter"/>
<path d="M564.00 522.90 L566.55 528.30 L561.45 528.30 Z" fill="#fff" stroke="#111" stroke-width="1.45" stroke-linejoin="miter"/>
<path d="M557.90 529.80 L560.45 535.20 L555.35 535.20 Z" fill="#fff" stroke="#111" stroke-width="1.45" stroke-linejoin="miter"/>
<path d="M557.90 543.70 L560.45 549.10 L555.35 549.10 Z" fill="#fff" stroke="#111" stroke-width="1.45" stroke-linejoin="miter"/>
<line x1="549.6" y1="522.3" x2="566.2" y2="522.3" stroke="#1a1a1a" stroke-width="1.5"/>
<circle cx="608.2" cy="489.0" r="2.75" fill="#111"/>
<text x="622.6" y="492.6" font-size="10.6" font-weight="normal" font-style="normal" text-anchor="start" fill="#1a1a1a" textLength="24.2" lengthAdjust="spacingAndGlyphs">Sham</text>
<path d="M608.20 504.30 L610.75 509.70 L605.65 509.70 Z" fill="#fff" stroke="#111" stroke-width="1.45" stroke-linejoin="miter"/>
<text x="623.0" y="510.6" font-size="10.6" font-weight="normal" font-style="normal" text-anchor="start" fill="#1a1a1a" textLength="17.6" lengthAdjust="spacingAndGlyphs">TAC</text>
</svg>
</body></html>
